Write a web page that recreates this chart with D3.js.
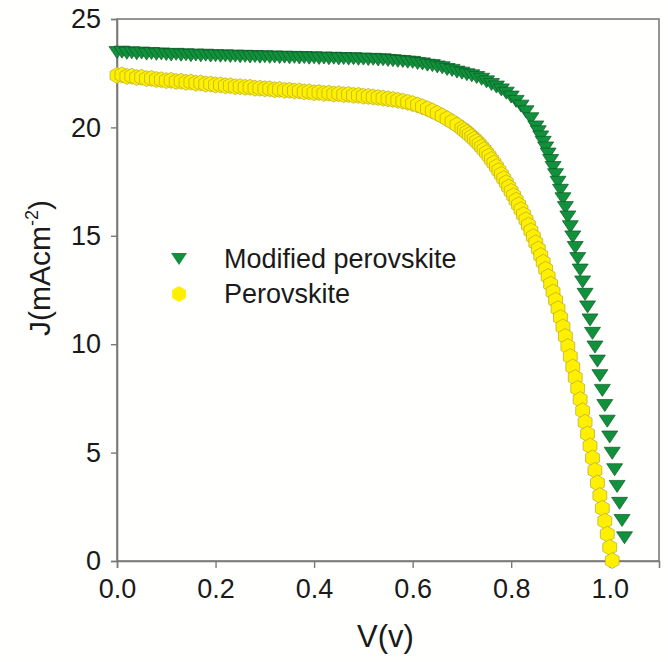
<!DOCTYPE html>
<html>
<head>
<meta charset="utf-8">
<script src="https://cdn.jsdelivr.net/npm/d3@7"></script>
<style>
  body { margin: 0; background: #fffffd; }
  text { font-family: "Liberation Sans", Arial, sans-serif; fill: #1a1a1a; }
</style>
</head>
<body>
<div id="chart"></div>
<script>
// J-V curves (V in volts, J in mA/cm2)
const modifiedV = [
  0.00, 0.01, 0.02, 0.03, 0.04, 0.05, 0.06, 0.07, 0.08, 0.09,
  0.10, 0.11, 0.12, 0.13, 0.14, 0.15, 0.16, 0.17, 0.18, 0.19,
  0.20, 0.21, 0.22, 0.23, 0.24, 0.25, 0.26, 0.27, 0.28, 0.29,
  0.30, 0.31, 0.32, 0.33, 0.34, 0.35, 0.36, 0.37, 0.38, 0.39,
  0.40, 0.41, 0.42, 0.43, 0.44, 0.45, 0.46, 0.47, 0.48, 0.49,
  0.50, 0.51, 0.52, 0.53, 0.54, 0.55, 0.56, 0.57, 0.58, 0.59,
  0.60, 0.61, 0.62, 0.63, 0.64, 0.65, 0.66, 0.67, 0.68, 0.69,
  0.70, 0.71, 0.72, 0.73, 0.74, 0.75, 0.76, 0.77, 0.78, 0.79,
  0.80, 0.81, 0.82, 0.83, 0.84, 0.85,
  0.855, 0.86, 0.865, 0.87, 0.875, 0.88, 0.885, 0.89, 0.895, 0.90,
  0.905, 0.91, 0.915, 0.92, 0.925, 0.93, 0.935, 0.94, 0.945, 0.95,
  0.955, 0.96, 0.965, 0.97, 0.975, 0.98, 0.985, 0.99, 0.995, 1.00,
  1.005, 1.01, 1.015, 1.02, 1.025, 1.03
];
const modifiedJ = [
  23.45, 23.47, 23.42, 23.44, 23.40, 23.43, 23.38, 23.41, 23.37, 23.39,
  23.36, 23.34, 23.37, 23.33, 23.35, 23.31, 23.34, 23.30, 23.33, 23.29,
  23.31, 23.28, 23.30, 23.27, 23.29, 23.26, 23.28, 23.25, 23.27, 23.24,
  23.26, 23.23, 23.25, 23.22, 23.24, 23.21, 23.23, 23.20, 23.22, 23.19,
  23.21, 23.18, 23.20, 23.17, 23.19, 23.16, 23.18, 23.15, 23.17, 23.14,
  23.15, 23.13, 23.14, 23.11, 23.12, 23.09, 23.08, 23.05, 23.04, 23.01,
  23.00, 22.95, 22.93, 22.87, 22.85, 22.79, 22.75, 22.67, 22.63, 22.55,
  22.50, 22.43, 22.38, 22.30, 22.22, 22.10, 21.98, 21.86, 21.73, 21.58,
  21.40, 21.20, 20.98, 20.72, 20.40, 20.02,
  19.80, 19.56, 19.31, 19.05, 18.77, 18.47, 18.15, 17.82, 17.47, 17.10,
  16.71, 16.30, 15.87, 15.42, 14.95, 14.46, 13.95, 13.42, 12.87, 12.30,
  11.72, 11.12, 10.50, 9.87, 9.22, 8.55, 7.87, 7.17, 6.45, 5.72,
  4.97, 4.21, 3.44, 2.66, 1.87, 1.07
];

const perovskiteV = [
  0.00, 0.01, 0.02, 0.03, 0.04, 0.05, 0.06, 0.07, 0.08, 0.09,
  0.10, 0.11, 0.12, 0.13, 0.14, 0.15, 0.16, 0.17, 0.18, 0.19,
  0.20, 0.21, 0.22, 0.23, 0.24, 0.25, 0.26, 0.27, 0.28, 0.29,
  0.30, 0.31, 0.32, 0.33, 0.34, 0.35, 0.36, 0.37, 0.38, 0.39,
  0.40, 0.41, 0.42, 0.43, 0.44, 0.45, 0.46, 0.47, 0.48, 0.49,
  0.50, 0.51, 0.52, 0.53, 0.54, 0.55, 0.56, 0.57, 0.58, 0.59,
  0.60, 0.61, 0.62, 0.63, 0.64, 0.65, 0.66, 0.67, 0.68, 0.69,
  0.70, 0.705, 0.71, 0.715, 0.72, 0.725, 0.73, 0.735, 0.74, 0.745,
  0.75, 0.755, 0.76, 0.765, 0.77, 0.775, 0.78, 0.785, 0.79, 0.795,
  0.80, 0.805, 0.81, 0.815, 0.82, 0.825, 0.83, 0.835, 0.84, 0.845,
  0.85, 0.855, 0.86, 0.865, 0.87, 0.875, 0.88, 0.885, 0.89, 0.895,
  0.90, 0.905, 0.91, 0.915, 0.92, 0.925, 0.93, 0.935, 0.94, 0.945,
  0.95, 0.955, 0.96, 0.965, 0.97, 0.975, 0.98, 0.985, 0.99, 0.995,
  1.00, 1.005
];
const perovskiteJ = [
  22.40, 22.42, 22.35, 22.36, 22.30, 22.31, 22.25, 22.26, 22.21, 22.20,
  22.16, 22.17, 22.12, 22.13, 22.08, 22.09, 22.04, 22.05, 22.00, 22.00,
  21.96, 21.96, 21.92, 21.92, 21.88, 21.88, 21.85, 21.85, 21.81, 21.81,
  21.78, 21.78, 21.74, 21.75, 21.71, 21.71, 21.68, 21.68, 21.64, 21.64,
  21.60, 21.61, 21.57, 21.58, 21.54, 21.55, 21.51, 21.52, 21.48, 21.48,
  21.44, 21.43, 21.40, 21.38, 21.35, 21.32, 21.29, 21.25, 21.21, 21.16,
  21.10, 21.03, 20.95, 20.86, 20.76, 20.65, 20.53, 20.40, 20.26, 20.11,
  19.95, 19.86, 19.77, 19.67, 19.57, 19.46, 19.35, 19.23, 19.10, 18.97,
  18.83, 18.68, 18.52, 18.36, 18.19, 18.01, 17.83, 17.64, 17.45, 17.25,
  17.05, 16.85, 16.64, 16.43, 16.21, 15.98, 15.74, 15.49, 15.23, 14.96,
  14.68, 14.39, 14.09, 13.78, 13.46, 13.12, 12.77, 12.41, 12.03, 11.64,
  11.23, 10.80, 10.36, 9.90, 9.43, 8.95, 8.46, 7.96, 7.45, 6.93,
  6.40, 5.86, 5.31, 4.75, 4.18, 3.60, 3.02, 2.43, 1.84, 1.24,
  0.63, 0.02
];

const seriesNames = ['Modified perovskite', 'Perovskite'];
const xTicks = [0, 0.2, 0.4, 0.6, 0.8, 1.0];
const yTicks = [0, 5, 10, 15, 20, 25];

const margin = {top: 19, right: 9, bottom: 101, left: 117},
      width = 668 - margin.left - margin.right,
      height = 662 - margin.top - margin.bottom;

const svg = d3.select('#chart').append('svg')
    .attr('width', 668)
    .attr('height', 662);

const g = svg.append('g')
    .attr('transform', 'translate(' + margin.left + ',' + margin.top + ')');

const x = d3.scaleLinear().domain([0, 1.1]).range([0, width]);
const y = d3.scaleLinear().domain([0, 25]).range([height, 0]);

// marker shapes: downward triangle and pointy-top hexagon
const triangle = 'M-8,-6L8,-6L0,6Z';
const hexagon = d3.range(6).map(i => {
  const a = Math.PI / 3 * i - Math.PI / 2;
  return [8 * Math.cos(a), 8 * Math.sin(a)];
});
const hexPath = 'M' + hexagon.map(p => p.join(',')).join('L') + 'Z';

const styles = [
  {path: triangle, fill: '#12913d', stroke: '#0a5a25'},
  {path: hexPath, fill: '#fff000', stroke: '#b5a82a'}
];

// frame
g.append('rect')
    .attr('width', width)
    .attr('height', height)
    .attr('fill', 'none')
    .attr('stroke', '#7a7a7a')
    .attr('stroke-width', 1.6);

const xAxis = g.append('g')
    .attr('transform', 'translate(0,' + height + ')')
    .call(d3.axisBottom(x).tickValues(xTicks).tickSize(7).tickPadding(11)
      .tickFormat(d3.format('.1f')));

const yAxis = g.append('g')
    .call(d3.axisLeft(y).tickValues(yTicks).tickSize(6).tickPadding(10)
      .tickFormat(d => d));

[xAxis, yAxis].forEach(a => {
  a.select('.domain').attr('stroke', '#7a7a7a').attr('stroke-width', 1.6);
  a.selectAll('.tick line').attr('stroke', '#7a7a7a').attr('stroke-width', 1.4);
  a.selectAll('.tick text')
      .attr('fill', '#1a1a1a')
      .style('font-family', '"Liberation Sans", Arial, sans-serif')
      .style('font-size', '27px');
});

const series = [
  modifiedV.map((v, i) => ({v: v, j: modifiedJ[i]})),
  perovskiteV.map((v, i) => ({v: v, j: perovskiteJ[i]}))
];

series.forEach((data, k) => {
  g.append('g')
    .selectAll('path')
    .data(data)
    .enter().append('path')
      .attr('d', styles[k].path)
      .attr('transform', d => 'translate(' + x(d.v) + ',' + y(d.j) + ')')
      .attr('fill', styles[k].fill)
      .attr('stroke', styles[k].stroke)
      .attr('stroke-width', 0.7);
});

// legend
const legend = svg.append('g')
    .attr('transform', 'translate(179,259)');

legend.selectAll('path')
    .data(seriesNames)
    .enter().append('path')
      .attr('d', (d, i) => i === 0 ? 'M-8,-6L8,-6L0,6Z' : hexPath)
      .attr('transform', (d, i) => 'translate(0,' + (i * 35) + ')')
      .attr('fill', (d, i) => styles[i].fill);

legend.selectAll('text')
    .data(seriesNames)
    .enter().append('text')
      .attr('x', 45)
      .attr('y', (d, i) => i * 35 + 9)
      .style('font-size', '27px')
      .text(d => d);

// axis titles
svg.append('text')
    .attr('x', margin.left + x(0.545))
    .attr('y', 647)
    .attr('text-anchor', 'middle')
    .style('font-size', '31px')
    .text('V(v)');

const yTitle = svg.append('text')
    .attr('transform', 'translate(50,' + 268 + ') rotate(-90)')
    .attr('text-anchor', 'middle')
    .style('font-size', '30px');
yTitle.append('tspan').text('J(mAcm');
yTitle.append('tspan').attr('dy', -12).style('font-size', '18px').text('-2');
yTitle.append('tspan').attr('dy', 12).text(')');
</script>
</body>
</html>
